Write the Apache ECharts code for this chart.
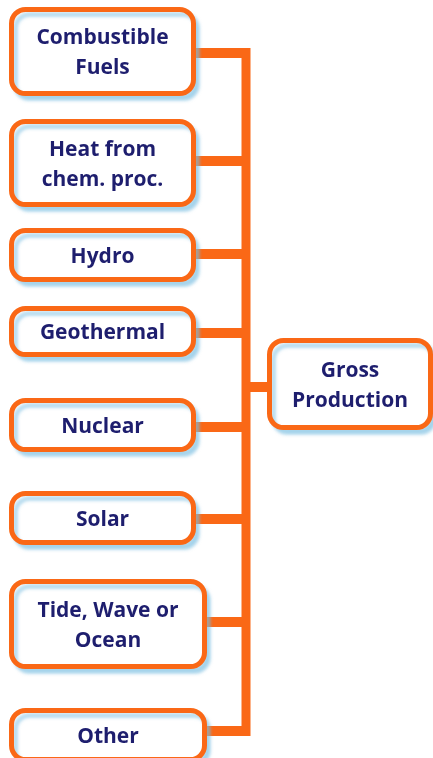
<!DOCTYPE html>
<html>
<head>
<meta charset="utf-8">
<script src="https://cdn.jsdelivr.net/npm/echarts@6/dist/echarts.min.js"></script>
<style>
html,body{margin:0;padding:0;background:#fff;}
#main{width:433px;height:758px;}
</style>
</head>
<body>
<div id="main"></div>
<script>
// sources feeding into gross production
var sourceNames = ['Combustible\nFuels', 'Heat from\nchem. proc.', 'Hydro', 'Geothermal',
                   'Nuclear', 'Solar', 'Tide, Wave or\nOcean', 'Other'];
var targetName = 'Gross\nProduction';

// layout (pixel space of the hidden axes)
var boxTop    = [7, 119, 228, 306, 398, 491, 579, 708];
var boxBottom = [96, 207, 282, 357, 452, 545, 669, 762];
var boxRight  = [196, 196, 196, 196, 196, 196, 207, 207];
var boxLeft = 9;
var linkY = [53, 161, 254, 333, 427, 519, 622, 731];
var busX = 246;
var hub = [267, 338, 433, 430, 387];   // x0, y0, x1, y1, link y

var ORANGE = '#fa6816';
var NAVY = '#1e1e6e';
var BORDER = 5;

var chart = echarts.init(document.getElementById('main'));

function boxShape(p0, p1){
	var h = BORDER / 2;
	return {x: p0[0] + h, y: p0[1] + h, width: p1[0] - p0[0] - BORDER, height: p1[1] - p0[1] - BORDER, r: 14};
}

function boxEls(p0, p1, label){
	return [{
		type: 'rect',
		shape: boxShape(p0, p1),
		style: {
			fill: '#fff', stroke: ORANGE, lineWidth: BORDER,
			shadowColor: 'rgba(120,190,225,0.5)', shadowBlur: 3, shadowOffsetX: 4, shadowOffsetY: 5
		}
	}, {
		type: 'text',
		style: {
			text: label,
			x: (p0[0] + p1[0]) / 2,
			y: (p0[1] + p1[1]) / 2 + 2,
			align: 'center', verticalAlign: 'middle',
			font: 'bold 21px "Open Sans"', lineHeight: 30,
			fill: NAVY
		}
	}];
}

function renderSource(params, api){
	var i = params.dataIndex;
	var p0 = api.coord([api.value(0), api.value(1)]);
	var p1 = api.coord([api.value(2), api.value(3)]);
	var ly = api.coord([0, api.value(4)])[1];
	var bx = api.coord([busX, 0])[0];
	var kids = [{
		type: 'line',
		shape: {x1: p1[0] - 3, y1: ly, x2: bx, y2: ly},
		style: {stroke: ORANGE, lineWidth: 10}
	}];
	return {type: 'group', children: kids.concat(boxEls(p0, p1, sourceNames[i]))};
}

function renderHub(params, api){
	var p0 = api.coord([api.value(0), api.value(1)]);
	var p1 = api.coord([api.value(2), api.value(3)]);
	var ly = api.coord([0, api.value(4)])[1];
	var bx = api.coord([busX, 0])[0];
	var top = api.coord([0, linkY[0]])[1] - 5;
	var bot = api.coord([0, linkY[linkY.length - 1]])[1] + 5;
	var kids = [{
		type: 'line',
		shape: {x1: bx, y1: top, x2: bx, y2: bot},
		style: {stroke: ORANGE, lineWidth: 9}
	}, {
		type: 'line',
		shape: {x1: bx, y1: ly, x2: p0[0] + 3, y2: ly},
		style: {stroke: ORANGE, lineWidth: 10}
	}];
	return {type: 'group', children: kids.concat(boxEls(p0, p1, targetName))};
}

var sourceData = sourceNames.map(function(n, i){
	return [boxLeft, boxTop[i], boxRight[i], boxBottom[i], linkY[i]];
});

chart.setOption({
	animation: false,
	backgroundColor: '#fff',
	grid: {left: 0, right: 0, top: 0, bottom: 0},
	xAxis: {type: 'value', min: 0, max: 433, show: false},
	yAxis: {type: 'value', min: 0, max: 758, inverse: true, show: false},
	series: [{
		type: 'custom',
		clip: false,
		renderItem: renderHub,
		data: [hub]
	}, {
		type: 'custom',
		clip: false,
		renderItem: renderSource,
		data: sourceData
	}]
});
</script>
</body>
</html>
